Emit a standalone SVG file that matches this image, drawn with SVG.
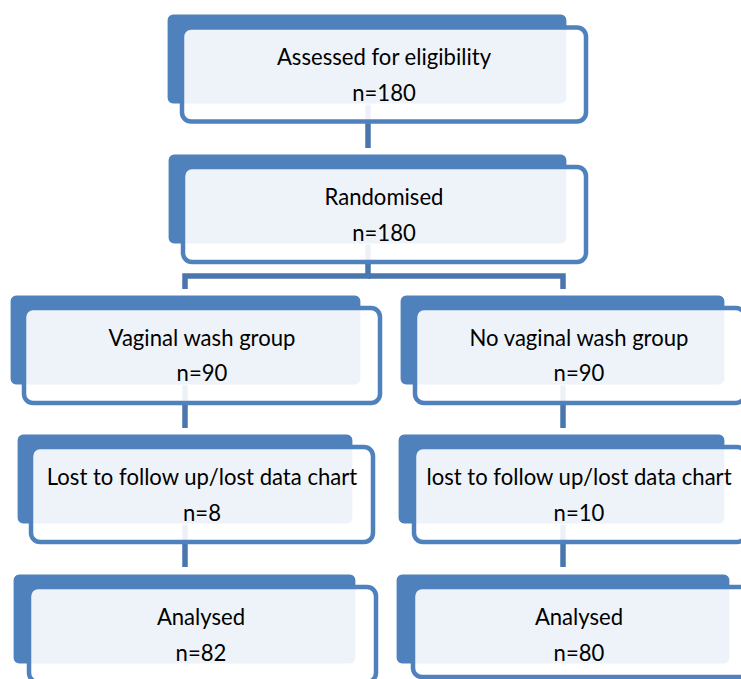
<svg xmlns="http://www.w3.org/2000/svg" width="741" height="679" viewBox="0 0 741 679">
<style>
.bg{fill:#4F81BD;stroke:#FFFFFF;stroke-width:1.2}
.fg{fill:#FFFFFF;fill-opacity:0.9;stroke:#4F81BD;stroke-width:4.5}
.t{font-family:Lato,"Open Sans","Liberation Sans",sans-serif;font-size:22.1px;fill:#000000;text-anchor:middle}
.c{fill:none;stroke:#4A76AE;stroke-width:5.5}
</style>
<rect width="741" height="679" fill="#FFFFFF"/>
<g id="connectors">
<line class="c" x1="368" y1="104" x2="368" y2="148"/>
<polyline class="c" points="368,244 368,276 185,276 185,289"/>
<polyline class="c" points="368,276 563,276 563,289"/>
<line class="c" x1="185" y1="385" x2="185" y2="428"/>
<line class="c" x1="563" y1="384" x2="563" y2="428"/>
<line class="c" x1="185" y1="524" x2="185" y2="567"/>
<line class="c" x1="563" y1="524" x2="563" y2="567"/>
</g>
<g id="n1">
<rect class="bg" x="167" y="14" width="400" height="90" rx="6"/>
<rect class="fg" x="182" y="27.5" width="404" height="94" rx="9"/>
<text class="t" x="384" y="64.5">Assessed for eligibility</text>
<text class="t" x="384" y="100.5">n=180</text>
</g>
<g id="n2">
<rect class="bg" x="168" y="154" width="399" height="90" rx="6"/>
<rect class="fg" x="183" y="167" width="403" height="95" rx="9"/>
<text class="t" x="384" y="204.5">Randomised</text>
<text class="t" x="384" y="240.5">n=180</text>
</g>
<g id="n3">
<rect class="bg" x="10" y="295" width="351" height="90" rx="6"/>
<rect class="fg" x="24" y="308" width="356" height="95" rx="9"/>
<text class="t" x="202" y="345.5">Vaginal wash group</text>
<text class="t" x="202" y="380.5">n=90</text>
</g>
<g id="n4">
<rect class="bg" x="400" y="295" width="325" height="90" rx="6"/>
<rect class="fg" x="415" y="308" width="330" height="95" rx="9"/>
<text class="t" x="579" y="345.5">No vaginal wash group</text>
<text class="t" x="579" y="380.5">n=90</text>
</g>
<g id="n5">
<rect class="bg" x="17" y="434" width="336" height="90" rx="6"/>
<rect class="fg" x="31" y="447" width="342" height="95" rx="9"/>
<text class="t" x="202" y="484.5">Lost to follow up/lost data chart</text>
<text class="t" x="202" y="520.5">n=8</text>
</g>
<g id="n6">
<rect class="bg" x="398" y="434" width="327" height="90" rx="6"/>
<rect class="fg" x="414" y="447" width="332" height="95" rx="9"/>
<text class="t" x="579" y="484.5">lost to follow up/lost data chart</text>
<text class="t" x="579" y="520.5">n=10</text>
</g>
<g id="n7">
<rect class="bg" x="13" y="574" width="343" height="90" rx="6"/>
<rect class="fg" x="29" y="587" width="347" height="95" rx="9"/>
<text class="t" x="201" y="624.5">Analysed</text>
<text class="t" x="201" y="660.5">n=82</text>
</g>
<g id="n8">
<rect class="bg" x="396" y="574" width="334" height="90" rx="6"/>
<rect class="fg" x="413" y="587" width="338" height="90" rx="9"/>
<text class="t" x="579" y="624.5">Analysed</text>
<text class="t" x="579" y="660.5">n=80</text>
</g>
</svg>
